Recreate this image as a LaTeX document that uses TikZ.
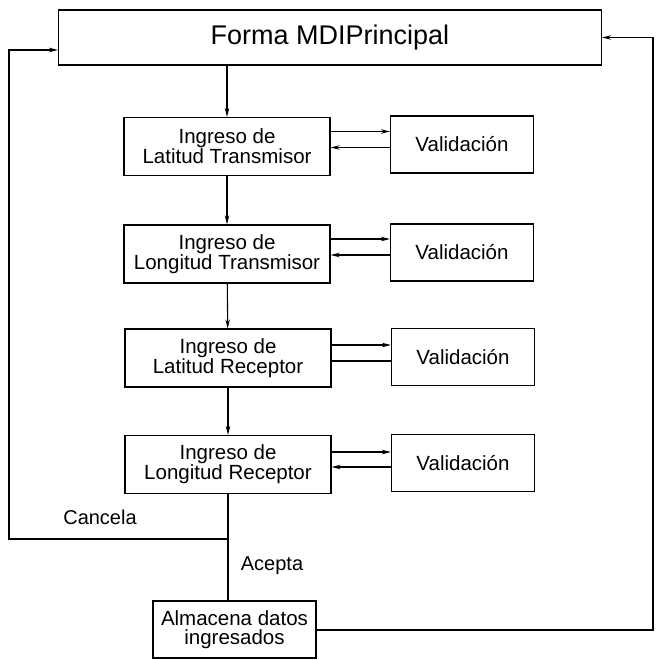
\documentclass[tikz,border=0pt]{standalone}
\usepackage{fontspec}
\setmainfont{Liberation Sans}
\usetikzlibrary{arrows.meta}

\begin{document}
\begin{tikzpicture}[x=1pt,y=-1pt,line width=1.1pt,
  >={Stealth[length=9pt,width=4.5pt]},
  caja/.style={draw,inner sep=0pt,minimum width=206pt,minimum height=58pt,
    align=center,font=\fontsize{20.5}{19}\selectfont},
  valida/.style={caja,minimum width=143pt,minimum height=57pt},
  rotulo/.style={font=\fontsize{20}{19}\selectfont}]
 \useasboundingbox (0,0) rectangle (657,660);
 % ventana principal
 \node[caja,minimum width=543pt,minimum height=55pt,font=\fontsize{27}{27}\selectfont]
   (mdi) at (330,37.5) {Forma MDIPrincipal};
 % ingreso de coordenadas
 \node[caja] (latTx) at (227,146.5) {Ingreso de\\Latitud Transmisor};
 \node[caja] (lonTx) at (227,254)   {Ingreso de\\Longitud Transmisor};
 \node[caja] (latRx) at (228,358)   {Ingreso de\\Latitud Receptor};
 \node[caja] (lonRx) at (228,464.5) {Ingreso de\\Longitud Receptor};
 \node[caja,minimum width=163pt,minimum height=57pt] (alm) at (234.5,629.5)
   {Almacena datos\\ingresados};
 % validaciones
 \node[valida] (val1) at (462,144.5) {Validación};
 \node[valida] (val2) at (462,252.5) {Validación};
 \node[valida] (val3) at (463,357)   {Validación};
 \node[valida] (val4) at (463,463)   {Validación};
 %
 \draw[->] (mdi.south -| latTx.north) -- (latTx.north);
 \draw[->] (latTx) -- (lonTx);
 \draw[->] (lonTx) -- (latRx);
 \draw[->] (latRx) -- (lonRx);
 %
 \draw[->] ([yshift=15pt]latTx.east) -- ([yshift=15pt]latTx.east -| val1.west);
 \draw[->] ([yshift=-3pt]val1.west) -- ([yshift=-3pt]val1.west -| latTx.east);
 \draw[->] ([yshift=15pt]lonTx.east) -- ([yshift=15pt]lonTx.east -| val2.west);
 \draw[->] ([yshift=-2.5pt]val2.west) -- ([yshift=-2.5pt]val2.west -| lonTx.east);
 \draw[->] ([yshift=13pt]latRx.east) -- ([yshift=13pt]latRx.east -| val3.west);
 \draw[-]  ([yshift=-4pt]val3.west) -- ([yshift=-4pt]val3.west -| latRx.east);
 \draw[->] ([yshift=12.5pt]lonRx.east) -- ([yshift=12.5pt]lonRx.east -| val4.west);
 \draw[->] ([yshift=-4pt]val4.west) -- ([yshift=-4pt]val4.west -| lonRx.east);
 % cancela / acepta
 \coordinate (cruce) at (228,539);
 \coordinate (izq) at (9,539);
 \coordinate (arriba) at (9,50);
 \coordinate (der) at (653,630);
 \draw (lonRx.south) -- (cruce) -- (cruce |- alm.north);
 \draw[->] (cruce) -- (izq) -- (arriba) -- (arriba -| mdi.west);
 \draw[->] (alm.east |- der) -- (der) -- (der |- mdi.east) -- (mdi.east);
 \node[rotulo] (cancela) at (100,517) {Cancela};
 \node[rotulo] (acepta) at (272,566) {Acepta};
\end{tikzpicture}
\end{document}
